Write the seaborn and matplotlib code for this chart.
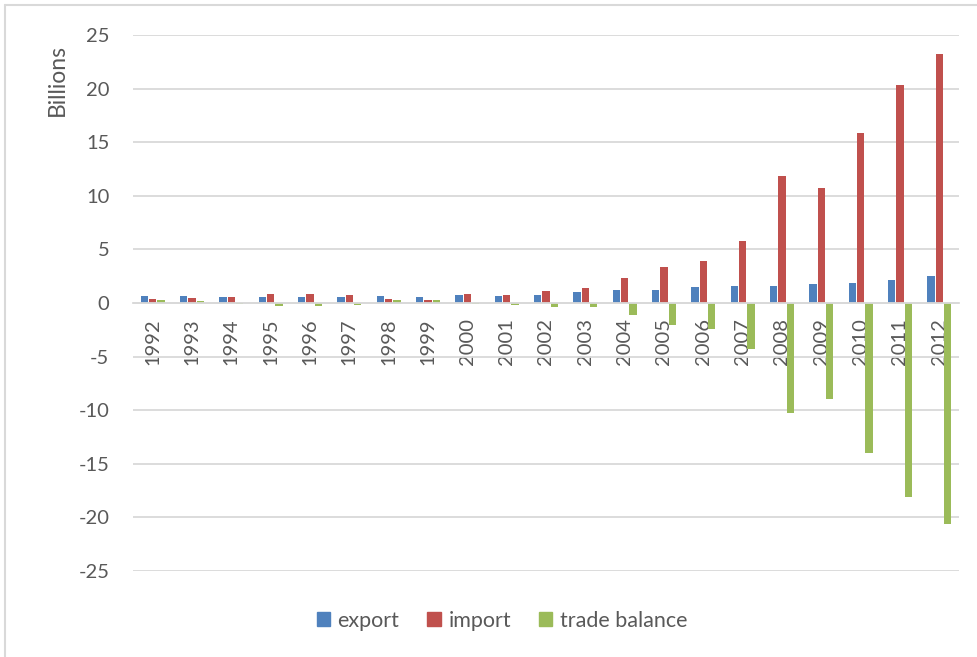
import matplotlib
matplotlib.use("Agg")
import matplotlib.pyplot as plt
import seaborn as sns
import pandas as pd
from matplotlib.lines import Line2D

years = [str(y) for y in range(1992, 2013)]
export = [0.65, 0.63, 0.55, 0.58, 0.52, 0.52, 0.68, 0.60, 0.73, 0.62, 0.78, 1.03,
          1.20, 1.24, 1.52, 1.55, 1.58, 1.80, 1.87, 2.17, 2.55]
imports = [0.33, 0.42, 0.60, 0.82, 0.84, 0.78, 0.37, 0.31, 0.84, 0.78, 1.15, 1.37,
           2.30, 3.32, 3.94, 5.81, 11.83, 10.75, 15.85, 20.30, 23.20]
balance = [0.30, 0.20, -0.05, -0.25, -0.30, -0.22, 0.30, 0.25, -0.10, -0.17, -0.40, -0.36,
           -1.12, -2.08, -2.42, -4.25, -10.27, -8.96, -13.95, -18.10, -20.62]
series_names = ["export", "import", "trade balance"]
colors = ["#4F81BD", "#C0504D", "#9BBB59"]
yticks = [-25, -20, -15, -10, -5, 0, 5, 10, 15, 20, 25]

df = pd.DataFrame({
    "year": years * 3,
    "value": export + imports + balance,
    "series": [series_names[0]] * len(years) + [series_names[1]] * len(years) + [series_names[2]] * len(years),
})

sns.set_theme(style="white")
plt.rcParams["font.family"] = ["Lato", "DejaVu Sans"]

fig = plt.figure(figsize=(9.77, 6.57), dpi=100)
ax = fig.add_axes([133 / 977, 1 - 571 / 657, (959 - 133) / 977, (571 - 35) / 657])

sns.barplot(data=df, x="year", y="value", hue="series", hue_order=series_names,
            palette=colors, width=0.63, gap=0.1, ax=ax, legend=False,
            saturation=1, edgecolor="none", linewidth=0)

ax.set_ylim(-25, 25)
ax.set_xlim(-0.5, len(years) - 0.5)
ax.set_yticks(yticks)
ax.set_yticklabels([str(t) for t in yticks])
ax.yaxis.grid(True, color="#D9D9D9", linewidth=1.3)
ax.set_axisbelow(True)
for s in ["top", "right", "left"]:
    ax.spines[s].set_visible(False)
ax.spines["bottom"].set_position(("data", 0))
ax.spines["bottom"].set_color("#D9D9D9")
ax.spines["bottom"].set_linewidth(1.3)

ax.tick_params(axis="y", length=0, pad=17, labelsize=14.5, labelcolor="#595959")
ax.tick_params(axis="x", length=0, pad=11, labelsize=14.5, labelcolor="#595959")
ax.set_xticks(range(len(years)))
ax.set_xticklabels(years, rotation=90, va="top", ha="center")
ax.set_xlabel("")
ax.set_ylabel("Billions", fontsize=16.5, color="#595959")
ax.yaxis.set_label_coords((68 - 133) / 826, (571 - 80) / 536)

handles = [plt.Rectangle((0, 0), 1, 1, color=c) for c in colors]
fig.legend(handles, series_names, loc="center", bbox_to_anchor=(502 / 977, 1 - 621 / 657),
           ncol=3, frameon=False, fontsize=15.5, labelcolor="#595959",
           handlelength=0.62, handleheight=0.62, handletextpad=0.35, columnspacing=1.3)

# chart area border (top and left visible)
fig.add_artist(Line2D([5 / 977, 5 / 977], [0, 1 - 5 / 657], transform=fig.transFigure,
                      color="#D9D9D9", linewidth=1.5))
fig.add_artist(Line2D([5 / 977, 1], [1 - 5 / 657, 1 - 5 / 657], transform=fig.transFigure,
                      color="#D9D9D9", linewidth=1.5))

fig.savefig("out.png", dpi=100)
